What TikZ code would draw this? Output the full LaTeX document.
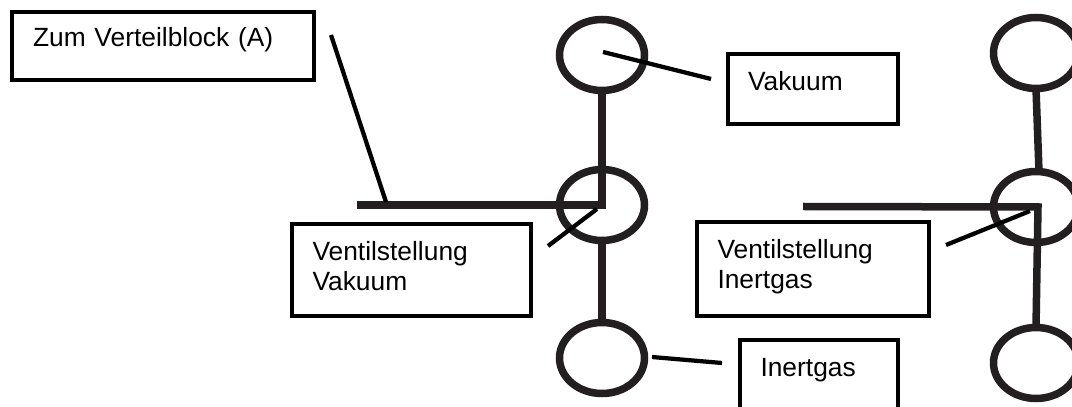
\documentclass[tikz,border=0pt]{standalone}
\usepackage{fontspec}
\setmainfont{Liberation Sans}
\usetikzlibrary{positioning, shapes.geometric}
\definecolor{pipeBlack}{HTML}{231F20}

\begin{document}
\begin{tikzpicture}
	\tikzstyle{Valve} = [ellipse, minimum width=17mm, minimum height=14.2mm, inner sep=0pt, outer sep=0pt, draw=pipeBlack, line width=1.5mm]
	\tikzstyle{LabelBox} = [rectangle, align=left, inner xsep=4.1mm, inner ysep=0pt, outer sep=0pt, text height=7.3mm, draw=black, line width=0.8mm, font=\fontsize{15}{17}\selectfont]
	\tikzstyle{pipe} = [draw=pipeBlack, line width=1.5mm]
	\tikzstyle{leader} = [draw=black, line width=0.85mm]
	
	\useasboundingbox (0,0) rectangle (21.44,8.14);
	
	\node (valveTopL) [Valve] at (12.04,7.04) {};
	\node (valveMidL) [Valve, below = 15.8mm of valveTopL] {};
	\node (valveBotL) [Valve, below = 16.4mm of valveMidL] {};
	
	\node (valveTopR) [Valve, right = 69.8mm of valveTopL, yshift=0.4mm] {};
	\node (valveMidR) [Valve, below = 16.6mm of valveTopR] {};
	\node (valveBotR) [Valve, below = 17mm of valveMidR] {};
	
	\node (verteilblock) [LabelBox, text width=52mm, text height=6.9mm, text depth=6.7mm] at (3.26,7.21) {Zum Verteilblock (A)};
	\node (vakuum) [LabelBox, text width=25.8mm, text depth=6.6mm, right = 16.6mm of valveTopL, yshift=-6.8mm] {Vakuum};
	\node (inertgas) [LabelBox, text width=23.4mm, text depth=6.7mm, right = 19.1mm of valveBotL, yshift=-3.5mm] {Inertgas};
	\node (stellungVakuum) [LabelBox, text width=39.6mm, text depth=11.2mm, left = 5.7mm of valveMidL, yshift=-13mm] {Ventilstellung\\Vakuum};
	\node (stellungInertgas) [LabelBox, text width=38.2mm, text depth=11.4mm, left = 12.9mm of valveMidR, yshift=-12.4mm] {Ventilstellung\\Inertgas};
	
	\coordinate (pipeStartL) at (7.14,4.04);
	\coordinate (pipeStartR) at (16.06,4.01);
	\coordinate (leadBlockA) at (6.62,7.44);
	\coordinate (leadBlockB) at (7.72,4.10);
	\coordinate (leadVakuumA) at (12.06,7.10);
	\coordinate (leadVakuumB) at (14.22,6.56);
	\coordinate (leadInertgasA) at (13.04,1.00);
	\coordinate (leadInertgasB) at (14.44,0.88);
	\coordinate (leadStellungVA) at (11.94,3.96);
	\coordinate (leadStellungVB) at (10.96,3.22);
	\coordinate (leadStellungIA) at (20.60,3.92);
	\coordinate (leadStellungIB) at (18.92,3.24);
	
	
	\draw[pipe] (valveTopL.south) |- (pipeStartL);
	\draw[pipe] (valveMidL.south) -- (valveBotL.north);
	\draw[pipe] (valveTopR.south) -- ([xshift=0.6mm]valveMidR.north);
	\draw[pipe] (pipeStartR) -- ([xshift=0.4mm]valveMidR.center) -- (valveBotR.north);
	
	\draw[leader] (leadBlockA) -- (leadBlockB);
	\draw[leader] (leadVakuumA) -- (leadVakuumB);
	\draw[leader] (leadInertgasA) -- (leadInertgasB);
	\draw[leader] (leadStellungVA) -- (leadStellungVB);
	\draw[leader] (leadStellungIA) -- (leadStellungIB);
\end{tikzpicture}
\end{document}
